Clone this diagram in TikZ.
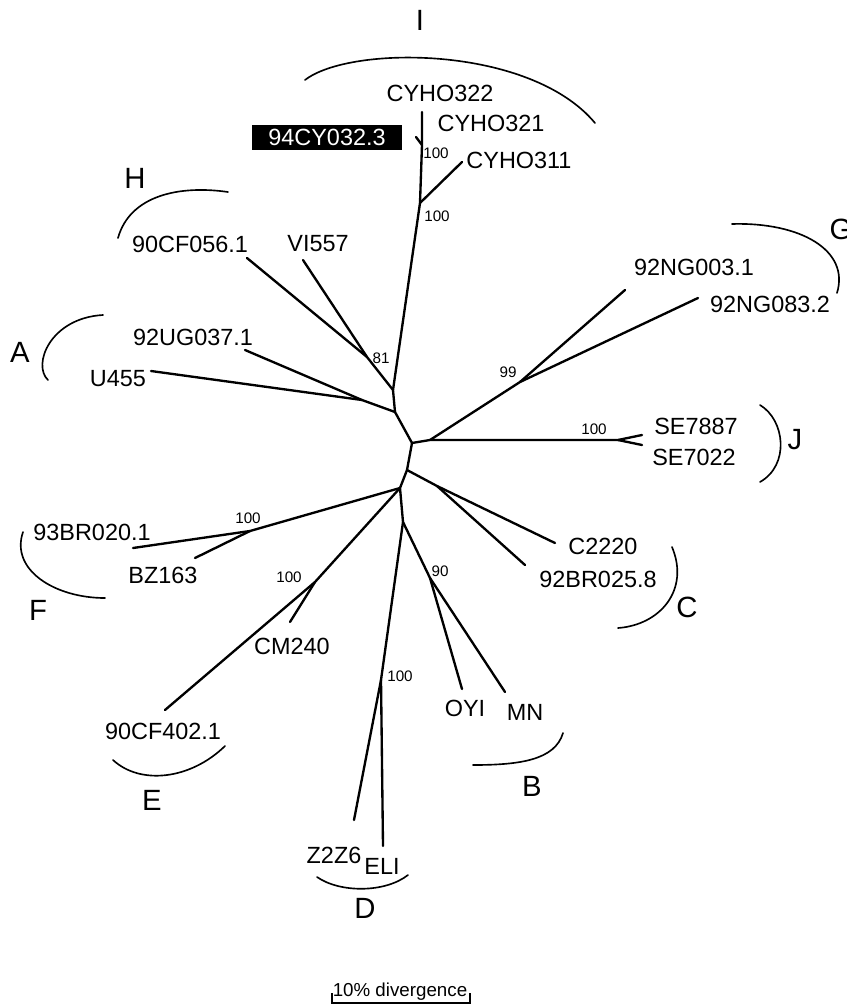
\documentclass[tikz,border=0pt]{standalone}
\usepackage{fontspec}
\setmainfont{Liberation Sans}
\begin{document}
\begin{tikzpicture}[x=0.03cm,y=-0.03cm,
  br/.style={line width=2pt, line cap=round, line join=round},
  grp/.style={line width=1.4pt, line cap=round},
  lab/.style={font=\fontsize{20}{24}\selectfont, inner sep=0pt},
  bs/.style={font=\fontsize{13}{15}\selectfont, inner sep=0pt},
  gl/.style={font=\fontsize{25}{30}\selectfont, inner sep=0pt}]
\useasboundingbox (0,0) rectangle (847,1006);
% internal nodes
\coordinate (nI1) at (422,145);
\coordinate (nI2) at (420,203);
\coordinate (nH) at (393,390);
\coordinate (n81) at (367,357);
\coordinate (nA2) at (395,412);
\coordinate (nA) at (362,400);
\coordinate (nc1) at (412,443);
\coordinate (nGJ) at (430,440);
\coordinate (nG) at (520,382);
\coordinate (nJ) at (618,440);
\coordinate (nc2) at (407,470);
\coordinate (nC) at (437,486);
\coordinate (nFE) at (400,488);
\coordinate (nF) at (250,531);
\coordinate (nE) at (315,582);
\coordinate (nBD) at (403,522);
\coordinate (nB) at (430,578);
\coordinate (nD) at (381,680);
% tips
\coordinate (t322) at (422,112);
\coordinate (t321) at (416,137);
\coordinate (t311) at (462,162);
\coordinate (t056) at (247,258);
\coordinate (t557) at (303,260);
\coordinate (t037) at (245,350);
\coordinate (t455) at (151,371);
\coordinate (t003) at (625,290);
\coordinate (t083) at (698,298);
\coordinate (t7887) at (642,435);
\coordinate (t7022) at (642,445);
\coordinate (t2220) at (555,543);
\coordinate (t025) at (525,565);
\coordinate (t020) at (133,548);
\coordinate (t163) at (195,558);
\coordinate (t402) at (165,710);
\coordinate (t240) at (290,622);
\coordinate (tOYI) at (462,689);
\coordinate (tMN) at (505,692);
\coordinate (tZ) at (354,820);
\coordinate (tELI) at (383,846);
% branches
\draw[br] (t322) -- (nI1) -- (nI2) -- (nH);
\draw[br] (t321) -- (nI1);
\draw[br] (t311) -- (nI2);
\draw[br] (t557) -- (n81) -- (nH) -- (nA2);
\draw[br] (t056) -- (n81);
\draw[br] (t037) -- (nA) -- (nA2);
\draw[br] (t455) -- (nA);
\draw[br] (nA2) -- (nc1) -- (nGJ) -- (nJ) -- (t7887);
\draw[br] (nJ) -- (t7022);
\draw[br] (nGJ) -- (nG) -- (t003);
\draw[br] (nG) -- (t083);
\draw[br] (nc1) -- (nc2) -- (nC) -- (t2220);
\draw[br] (nC) -- (t025);
\draw[br] (nc2) -- (nFE) -- (nF) -- (t020);
\draw[br] (nF) -- (t163);
\draw[br] (nFE) -- (nE) -- (t402);
\draw[br] (nE) -- (t240);
\draw[br] (nFE) -- (nBD) -- (nB) -- (tOYI);
\draw[br] (nB) -- (tMN);
\draw[br] (nBD) -- (nD) -- (tELI);
\draw[br] (nD) -- (tZ);
% leaf labels
\node[lab] (l322) at (440,93) {CYHO322};
\node[lab] (l321) at (491,123) {CYHO321};
\node[lab] (l311) at (519,160) {CYHO311};
\node[lab, fill=black, text=white, minimum width=4.5cm, minimum height=0.75cm] (l94) at (327,137.5) {94CY032.3};
\node[lab] (l056) at (190,244) {90CF056.1};
\node[lab] (l557) at (318,244) {VI557};
\node[lab] (l037) at (193,337) {92UG037.1};
\node[lab] (l455) at (118,379) {U455};
\node[lab] (l003) at (694,267) {92NG003.1};
\node[lab] (l083) at (770,304) {92NG083.2};
\node[lab] (l7887) at (696,426) {SE7887};
\node[lab] (l7022) at (694,457) {SE7022};
\node[lab] (l2220) at (603,546) {C2220};
\node[lab] (l025) at (598,579) {92BR025.8};
\node[lab] (lOYI) at (465,708) {OYI};
\node[lab] (lMN) at (525,712) {MN};
\node[lab] (l020) at (92,532) {93BR020.1};
\node[lab] (l163) at (163,575) {BZ163};
\node[lab] (l402) at (163,731) {90CF402.1};
\node[lab] (l240) at (292,646) {CM240};
\node[lab] (lZ) at (334,855) {Z2Z6};
\node[lab] (lELI) at (382,866) {ELI};
% bootstrap values
\node[bs] (b1) at (436,153) {100};
\node[bs] (b2) at (437,216) {100};
\node[bs] (b81) at (381,358) {81};
\node[bs] (b99) at (508,372) {99};
\node[bs] (bJ) at (594,429) {100};
\node[bs] (b90) at (440,571) {90};
\node[bs] (bF) at (248,518) {100};
\node[bs] (bE) at (289,577) {100};
\node[bs] (bD) at (400,676) {100};
% group letters
\node[gl] (gI) at (420,20) {I};
\node[gl] (gH) at (135,178) {H};
\node[gl] (gA) at (20,352) {A};
\node[gl] (gG) at (841,229) {G};
\node[gl] (gJ) at (795,440) {J};
\node[gl] (gC) at (687,607) {C};
\node[gl] (gB) at (532,786) {B};
\node[gl] (gF) at (38,610) {F};
\node[gl] (gE) at (152,800) {E};
\node[gl] (gD) at (365,908) {D};
% group arcs
\draw[grp] (305,80) .. controls (350,45) and (530,45) .. (595,123);
\draw[grp] (118,238) .. controls (130,195) and (180,185) .. (228,192);
\draw[grp] (48,380) .. controls (32,365) and (50,318) .. (103,315);
\draw[grp] (732,224) .. controls (800,222) and (850,250) .. (837,293);
\draw[grp] (760,405) .. controls (785,420) and (790,465) .. (760,482);
\draw[grp] (672,547) .. controls (690,590) and (660,625) .. (618,628);
\draw[grp] (563,733) .. controls (555,760) and (520,765) .. (473,765);
\draw[grp] (23,532) .. controls (10,570) and (55,598) .. (105,598);
\draw[grp] (113,760) .. controls (140,785) and (190,780) .. (225,746);
\draw[grp] (317,877) .. controls (340,893) and (385,893) .. (408,875);
% scale bar
\node[font=\fontsize{16}{19}\selectfont, inner sep=0pt, anchor=base] (scl) at (400,996) {10\% divergence};
\coordinate (s1) at (332,993);
\coordinate (s2) at (332,1003);
\coordinate (s3) at (470,1003);
\coordinate (s4) at (470,993);
\draw[line width=1.2pt] (s1) -- (s2) -- (s3) -- (s4);
\end{tikzpicture}
\end{document}
